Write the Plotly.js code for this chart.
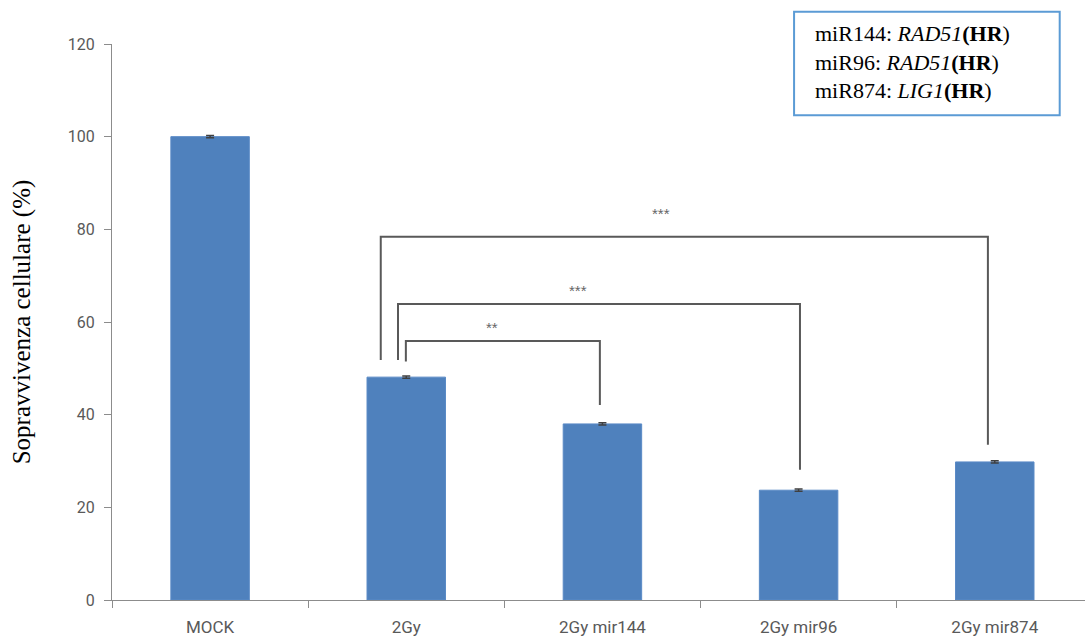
<!DOCTYPE html>
<html>
<head>
<meta charset="utf-8">
<script src="https://cdn.plot.ly/plotly-3.0.1.min.js"></script>
<style>html,body{margin:0;padding:0;background:#fff;}#chart{width:1085px;height:642px;}</style>
</head>
<body>
<div id="chart"></div>
<script>
const categories = ["MOCK", "2Gy", "2Gy mir144", "2Gy mir96", "2Gy mir874"];
const survival = [100, 48.1, 38.0, 23.7, 29.8];
const errors = [0.25, 0.25, 0.25, 0.25, 0.25];
const yTicks = [0, 20, 40, 60, 80, 100, 120];

// significance brackets
const bracketFrom = [1, 1, 1];
const bracketTo = [2, 3, 4];
const bracketTop = [55.9, 63.9, 78.4];
const bracketLeftFoot = [51.5, 51.8, 51.8];
const bracketRightFoot = [42.1, 28.1, 33.5];
const bracketLeftOffset = [-0.002, -0.042, -0.13];
const bracketRightOffset = [-0.013, 0.007, -0.035];
const bracketLabels = ["**", "***", "***"];
const labelX = [1.437, 1.875, 2.298];
const labelY = [58.9, 66.7, 83.5];

const legendLines = [
  "miR144: <i>RAD51</i><b>(HR</b>)",
  "miR96: <i>RAD51</i><b>(HR</b>)",
  "miR874: <i>LIG1</i><b>(HR</b>)"
];

const shapes = [];
const annotations = [];
for (let i = 0; i < bracketTop.length; i++) {
  const xl = bracketFrom[i] + bracketLeftOffset[i];
  const xr = bracketTo[i] + bracketRightOffset[i];
  shapes.push({
    type: "path", xref: "x", yref: "y",
    path: `M ${xl} ${bracketLeftFoot[i]} L ${xl} ${bracketTop[i]} L ${xr} ${bracketTop[i]} L ${xr} ${bracketRightFoot[i]}`,
    line: {color: "#595959", width: 2}
  });
  annotations.push({
    x: labelX[i], y: labelY[i], xref: "x", yref: "y",
    text: bracketLabels[i], showarrow: false,
    font: {family: "Liberation Sans, Arial", size: 15, color: "#666666"}
  });
}
shapes.push({
  type: "rect", xref: "paper", yref: "paper",
  x0: 0.701, x1: 0.974, y0: 0.872, y1: 1.058,
  line: {color: "#5B9BD5", width: 2}, fillcolor: "rgba(0,0,0,0)"
});
annotations.push({
  xref: "paper", yref: "paper", x: 0.72, y: 1.045,
  xanchor: "left", yanchor: "top", align: "left",
  text: legendLines.join("<br>"), showarrow: false,
  font: {family: "Liberation Serif, Times New Roman", size: 22, color: "#000"}
});

const trace = {
  type: "bar", x: categories, y: survival, width: 0.4,
  marker: {color: "#4F81BD", line: {color: "#5A8AC6", width: 1}},
  error_y: {type: "data", array: errors, visible: true, color: "#404040", thickness: 1.5, width: 4}
};

const layout = {
  width: 1085, height: 642,
  margin: {l: 112, r: 0, t: 44, b: 42},
  paper_bgcolor: "#fff", plot_bgcolor: "#fff",
  showlegend: false,
  xaxis: {
    type: "category", range: [-0.5, 4.46],
    showline: true, linecolor: "#8c8c8c", linewidth: 1,
    ticks: "outside", tickson: "boundaries", ticklen: 7, tickcolor: "#8c8c8c",
    showgrid: false, zeroline: false, ticklabelstandoff: 12,
    tickfont: {family: "Roboto, Arial", size: 17, color: "#595959"}
  },
  yaxis: {
    range: [0, 120], tickvals: yTicks,
    showline: true, linecolor: "#8c8c8c", linewidth: 1,
    ticks: "outside", ticklen: 7, tickcolor: "#8c8c8c",
    showgrid: false, zeroline: false, ticklabelstandoff: 6,
    tickfont: {family: "Roboto, Arial", size: 16, color: "#595959"},
    title: {text: "Sopravvivenza cellulare (%)", standoff: 30,
      font: {family: "Liberation Serif, Times New Roman", size: 25, color: "#000"}}
  },
  shapes: shapes,
  annotations: annotations
};

Plotly.newPlot("chart", [trace], layout, {displayModeBar: false});
</script>
</body>
</html>
